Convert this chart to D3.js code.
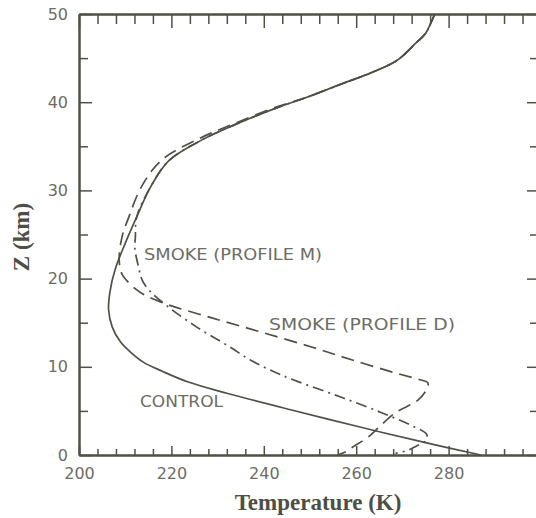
<!DOCTYPE html>
<html>
<head>
<meta charset="utf-8">
<script src="https://cdn.jsdelivr.net/npm/d3@7"></script>
<style>
  body { margin: 0; background: #ffffff; }
  svg { display: block; }
</style>
</head>
<body>
<script>
'use strict';

// temperature (K) at each height (km)
const controlZ = [50, 48.8, 47.8, 46.5, 44.8, 43.5, 42, 40.5, 39.5, 37.4, 35.7, 33.4, 30.4, 27, 24, 21, 18.5, 16.5, 14.5, 12.8, 11.5, 10.5, 9.5, 8.3, 7, 5.1, 3.2, 1.4, 0];
const controlT = [277, 276, 275, 272.5, 269, 264, 256.5, 249, 243.5, 233.5, 226.5, 219.5, 215.5, 212.5, 210, 207.8, 206.7, 206.4, 207.2, 209, 211.5, 214, 218, 223.5, 232, 246, 260.6, 275, 287];

const profileDZ = [50, 48.8, 47.8, 46.5, 44.8, 43.5, 42, 40.5, 39.5, 37.4, 35.7, 33.4, 30.4, 27, 24.7, 22.1, 20.5, 19.8, 18.8, 18.2, 17.6, 17, 15.6, 14, 12.3, 10.8, 9.3, 8.5, 8.2, 7.5, 6.2, 4.8, 3.2, 2, 1, 0.3, 0];
const profileDT = [277, 276, 275, 272.5, 269, 264, 256.5, 249, 243, 232.8, 225.3, 217.8, 213.5, 210.8, 209.3, 208.7, 209.3, 210.3, 212.3, 214, 216.5, 219.5, 228.4, 239, 250, 259, 268.5, 274, 275.5, 275.3, 273.3, 268.5, 265, 262.5, 259.5, 257.5, 256];

const profileMZ = [50, 48.8, 47.8, 46.5, 44.8, 43.5, 42, 40.5, 39.5, 37.4, 35.7, 33.4, 30.4, 27, 24.7, 23.4, 21.3, 19.8, 18.5, 16.8, 14.5, 12.3, 10.8, 9.6, 8.5, 6.6, 4.8, 3.2, 2.3, 1.6, 1.0, 0.5, 0.2];
const profileMT = [277, 276, 275, 272.5, 269, 264, 256.5, 249, 243.5, 233.5, 226.5, 219.5, 215.5, 212.5, 212.2, 212.1, 212.9, 213.7, 215.5, 219.3, 225.5, 232.5, 237, 241.5, 246.5, 256.5, 265.5, 272.5, 275.3, 275, 273, 271, 268.5];

// axis ticks
const xMajorTicks = [200, 220, 240, 260, 280, 300];
const xTickLabels = ["200", "220", "240", "260", "280", ""];
const xMinorTicks = [204, 208, 212, 216, 224, 228, 232, 236, 244, 248, 252, 256, 264, 268, 272, 276, 284, 288, 292, 296];
const yMajorTicks = [0, 10, 20, 30, 40, 50];
const yMinorTicks = [5, 15, 25, 35, 45];

// curve labels
const curveLabels = ["SMOKE (PROFILE M)", "SMOKE (PROFILE D)", "CONTROL"];

(function() {

  let svgContainer = "";
  const ink = "#4f5145";
  const textInk = "#6c6d63";

  window.onload = function() {
    svgContainer = d3.select('body')
      .append('svg')
      .attr('width', 536)
      .attr('height', 518);
    makePlot();
  }

  function makePlot() {
    let xScale = d3.scaleLinear().domain([200, 300]).range([79, 541]);
    let yScale = d3.scaleLinear().domain([0, 50]).range([455, 14]);

    drawAxes(xScale, yScale);

    let series = [
      { z: controlZ, t: controlT, dash: null },
      { z: profileDZ, t: profileDT, dash: "13,7" },
      { z: profileMZ, t: profileMT, dash: "11,5,2,5" }
    ];

    let line = d3.line()
      .x((d) => xScale(d[0]))
      .y((d) => yScale(d[1]))
      .curve(d3.curveCatmullRom.alpha(0.5));

    series.forEach(function(s) {
      let pts = s.t.map((t, i) => [t, s.z[i]]);
      svgContainer.append('path')
        .datum(pts)
        .attr('d', line)
        .attr('fill', 'none')
        .attr('stroke', ink)
        .attr('stroke-width', 1.7)
        .attr('stroke-dasharray', s.dash);
    });

    makeLabels();
  }

  // draw a frame with inward ticks on all four sides
  function drawAxes(xScale, yScale) {
    let fontFam = "'DejaVu Sans', sans-serif";

    // bottom
    svgContainer.append('g')
      .attr('transform', 'translate(0, 455)')
      .call(d3.axisBottom(xScale).tickValues(xMinorTicks).tickSize(-6).tickSizeOuter(0).tickFormat(""));
    svgContainer.append('g')
      .attr('transform', 'translate(0, 455)')
      .call(d3.axisBottom(xScale).tickValues(xMajorTicks).tickSize(-9).tickSizeOuter(0).tickPadding(13)
        .tickFormat((d, i) => xTickLabels[i]));

    // top
    svgContainer.append('g')
      .attr('transform', 'translate(0, 14)')
      .call(d3.axisTop(xScale).tickValues(xMinorTicks).tickSize(-10).tickSizeOuter(0).tickFormat(""));
    svgContainer.append('g')
      .attr('transform', 'translate(0, 14)')
      .call(d3.axisTop(xScale).tickValues(xMajorTicks).tickSize(-14).tickSizeOuter(0).tickFormat(""));

    // left
    svgContainer.append('g')
      .attr('transform', 'translate(79, 0)')
      .call(d3.axisLeft(yScale).tickValues(yMinorTicks).tickSize(-9).tickSizeOuter(0).tickFormat(""));
    svgContainer.append('g')
      .attr('transform', 'translate(79, 0)')
      .call(d3.axisLeft(yScale).tickValues(yMajorTicks).tickSize(-13).tickSizeOuter(0).tickPadding(11));

    // right
    svgContainer.append('g')
      .attr('transform', 'translate(541, 0)')
      .call(d3.axisRight(yScale).tickValues(yMinorTicks).tickSize(-11).tickSizeOuter(0).tickFormat(""));
    svgContainer.append('g')
      .attr('transform', 'translate(541, 0)')
      .call(d3.axisRight(yScale).tickValues(yMajorTicks).tickSize(-14).tickSizeOuter(0).tickFormat(""));

    svgContainer.selectAll('.domain')
      .attr('stroke', ink)
      .attr('stroke-width', 2);
    svgContainer.selectAll('.tick line')
      .attr('stroke', ink)
      .attr('stroke-width', 1.5);
    svgContainer.selectAll('.tick text')
      .attr('fill', textInk)
      .style('font-family', fontFam)
      .style('font-size', '16px');
  }

  // curve labels and axis titles
  function makeLabels() {
    let pos = [[144, 260, 178], [269, 330, 186], [140, 407, 83]];
    curveLabels.forEach(function(txt, i) {
      svgContainer.append('text')
        .attr('x', pos[i][0])
        .attr('y', pos[i][1])
        .attr('textLength', pos[i][2])
        .attr('lengthAdjust', 'spacingAndGlyphs')
        .attr('fill', textInk)
        .style('font-family', "'DejaVu Sans', sans-serif")
        .style('font-size', '16px')
        .text(txt);
    });

    svgContainer.append('text')
      .attr('x', 318)
      .attr('y', 510)
      .attr('text-anchor', 'middle')
      .attr('fill', '#4d4e44')
      .style('font-family', "'Liberation Serif', serif")
      .style('font-weight', 'bold')
      .style('font-size', '23px')
      .text('Temperature (K)');

    svgContainer.append('text')
      .attr('transform', 'translate(29, 237)rotate(-90)')
      .attr('text-anchor', 'middle')
      .attr('fill', '#4d4e44')
      .style('font-family', "'Liberation Serif', serif")
      .style('font-weight', 'bold')
      .style('font-size', '23px')
      .text('Z (km)');
  }

})();
</script>
</body>
</html>
